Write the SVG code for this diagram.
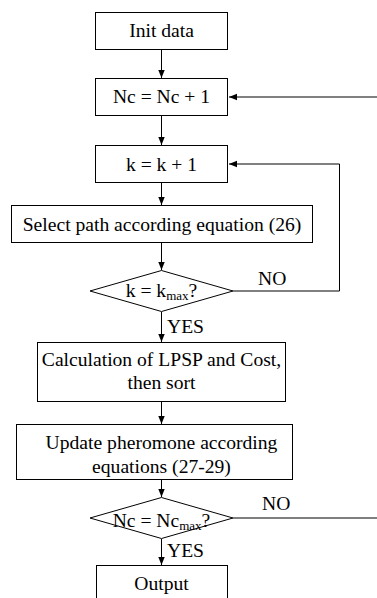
<svg xmlns="http://www.w3.org/2000/svg" width="377" height="598" viewBox="0 0 377 598">
<style>
.b{fill:#fff;stroke:#000;stroke-width:1}
.t{font-family:"Liberation Serif","Times New Roman",serif;font-size:19.6px;fill:#000;text-anchor:middle}
.l{font-family:"Liberation Serif","Times New Roman",serif;font-size:19.6px;fill:#000}
.s{font-size:13px}
.c{fill:none;stroke:#000;stroke-width:1}
</style>
<defs>
<marker id="a" markerWidth="8" markerHeight="8" refX="8" refY="4" orient="auto" markerUnits="userSpaceOnUse">
<path d="M0,0.8 L8,4 L0,7.2 Z" fill="#000"/>
</marker>
</defs>
<rect width="377" height="598" fill="#fff"/>
<g id="connectors">
<line class="c" x1="161.5" y1="50" x2="161.5" y2="78" marker-end="url(#a)"/>
<line class="c" x1="377" y1="97" x2="229" y2="97" marker-end="url(#a)"/>
<line class="c" x1="161.5" y1="116" x2="161.5" y2="145" marker-end="url(#a)"/>
<polyline class="c" points="233,291 339.5,291 339.5,164 229,164" marker-end="url(#a)"/>
<line class="c" x1="161.5" y1="183" x2="161.5" y2="205" marker-end="url(#a)"/>
<line class="c" x1="161.5" y1="243" x2="161.5" y2="270" marker-end="url(#a)"/>
<line class="c" x1="161.5" y1="312" x2="161.5" y2="342" marker-end="url(#a)"/>
<line class="c" x1="161.5" y1="401" x2="161.5" y2="424" marker-end="url(#a)"/>
<line class="c" x1="161.5" y1="480" x2="161.5" y2="497" marker-end="url(#a)"/>
<line class="c" x1="233" y1="518" x2="377" y2="518"/>
<line class="c" x1="161.5" y1="539" x2="161.5" y2="565" marker-end="url(#a)"/>
<text class="l" x="258" y="285">NO</text>
<text class="l" x="167" y="333">YES</text>
<text class="l" x="262" y="510">NO</text>
<text class="l" x="167" y="557">YES</text>
</g>
<g id="init"><rect class="b" x="95.5" y="12.5" width="132" height="37"/><text class="t" x="161.5" y="37">Init data</text></g>
<g id="nc"><rect class="b" x="95.5" y="78.5" width="132" height="37"/><text class="t" x="161.5" y="103">Nc = Nc + 1</text></g>
<g id="k"><rect class="b" x="95.5" y="145.5" width="132" height="37"/><text class="t" x="161.5" y="170.5">k = k + 1</text></g>
<g id="select"><rect class="b" x="11.5" y="205.5" width="301" height="37"/><text class="t" x="162" y="231">Select path according equation (26)</text></g>
<g id="d1"><polygon class="b" points="161.5,270.5 233,291 161.5,311.5 90,291"/><text class="t" x="161.5" y="297">k = k<tspan class="s" dy="3">max</tspan><tspan dy="-3">?</tspan></text></g>
<g id="calc"><rect class="b" x="37.5" y="342.5" width="248" height="59"/><text class="t" x="161.5" y="366">Calculation of LPSP and Cost,</text><text class="t" x="161.5" y="389">then sort</text></g>
<g id="update"><rect class="b" x="16.5" y="424.5" width="276" height="55"/><text class="t" x="161.5" y="449">Update pheromone according</text><text class="t" x="161.5" y="473">equations (27-29)</text></g>
<g id="d2"><polygon class="b" points="161.5,497.5 233,518 161.5,538.5 90,518"/><text class="t" x="161.5" y="527">Nc = Nc<tspan class="s" dy="3">max</tspan><tspan dy="-3">?</tspan></text></g>
<g id="output"><rect class="b" x="96.5" y="565.5" width="131" height="40"/><text class="t" x="161.5" y="590">Output</text></g>
</svg>
